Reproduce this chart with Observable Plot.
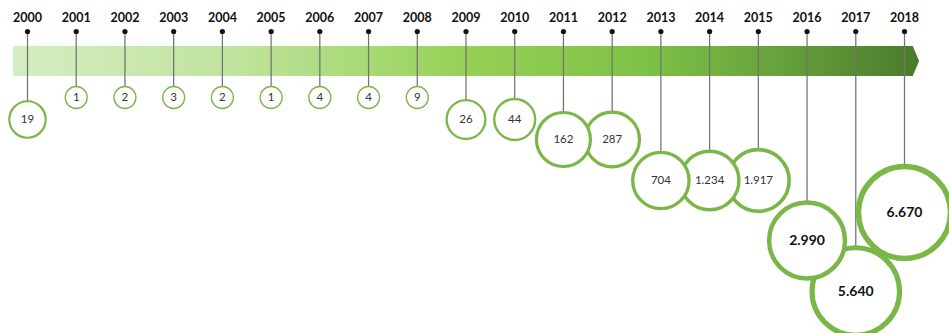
<!DOCTYPE html>
<html>
<head>
<meta charset="utf-8">
<script src="https://cdn.jsdelivr.net/npm/d3@7"></script>
<script src="https://cdn.jsdelivr.net/npm/@observablehq/plot@0.6"></script>
<style>
  html, body { margin: 0; padding: 0; background: #fff; }
  #chart { width: 949px; height: 333px; }
</style>
</head>
<body>
<div id="chart"></div>
<script>
// ---- data ----
const years  = [2000, 2001, 2002, 2003, 2004, 2005, 2006, 2007, 2008, 2009, 2010, 2011, 2012, 2013, 2014, 2015, 2016, 2017, 2018];
const values = [19, 1, 2, 3, 2, 1, 4, 4, 9, 26, 44, 162, 287, 704, 1234, 1917, 2990, 5640, 6670];
// row of the staggered cascade in which each bubble hangs (0 = first row under the arrow)
const rows   = [1, 0, 0, 0, 0, 0, 0, 0, 0, 1, 1, 2, 2, 3, 3, 3, 5, 6, 4];

const data = years.map((year, i) => ({year, value: values[i], row: rows[i]}));

// lanes of the layout: -4 year labels, -3 pins, -2/-1 arrow top/bottom, 0..6 bubble rows
const laneDomain = [-4, -3, -2, -1, 0, 1, 2, 3, 4, 5, 6];
const laneRange  = [17, 31, 46, 76, 97, 119, 139, 180, 212, 240, 291];

const rDomain = [1, 10, 20, 150, 2000, 3000, 6670];
const rRange  = [11, 11, 19, 27, 31, 38, 46];
const rs = d3.scaleLinear().domain(rDomain).range(rRange);

const fmt = d3.formatLocale({decimal: ",", thousands: ".", grouping: [3], currency: ["", ""]}).format(",d");

const first = years[0], last = years[years.length - 1];
const arrow = [
  {x: first - 0.29, top: -2, bottom: -1},
  {x: last + 0.18, top: -2, bottom: -1},
  {x: last + 0.31, top: -1.5, bottom: -1.5}
];

const green = "#7ab648";
const font = "Lato, 'Open Sans', sans-serif";

const svg = Plot.plot({
  width: 949,
  height: 333,
  margin: 0,
  style: {background: "#fff", fontFamily: font},
  x: {type: "linear", domain: [first, last], range: [27, 904], axis: null},
  y: {type: "linear", domain: laneDomain, range: laneRange, axis: null},
  r: {type: "linear", domain: rDomain, range: rRange},
  marks: [
    Plot.areaY(arrow, {x: "x", y1: "top", y2: "bottom", fill: "url(#arrowGrad)", curve: "linear"}),
    Plot.ruleX(data, {x: "year", y1: -3, y2: "row", stroke: "#727272", strokeWidth: 1.25}),
    Plot.dot(years, {x: d => d, y: -3, r: 2.6, fill: "#111", stroke: null}),
    Plot.text(years, {x: d => d, y: -4, text: d => String(d), fontWeight: "bold", fontSize: 12.5, fill: "#111", fontFamily: font}),
    Plot.dot(data, {x: "year", y: "row", r: "value", fill: "#fff", stroke: green, strokeWidth: d => rs(d.value) / 8.5}),
    Plot.text(data.filter(d => d.value < 2000), {x: "year", y: "row", text: d => fmt(d.value), fontSize: 11.5, fill: "#333", fontFamily: font}),
    Plot.text(data.filter(d => d.value >= 2000), {x: "year", y: "row", text: d => fmt(d.value), fontSize: 14, fontWeight: "bold", fill: "#111", fontFamily: font})
  ]
});

const defs = d3.select(svg).insert("defs", ":first-child");
const grad = defs.append("linearGradient").attr("id", "arrowGrad").attr("x1", "0").attr("x2", "1").attr("y1", "0").attr("y2", "0");
[[0, "#d5edc3"], [0.25, "#bfe39d"], [0.5, "#96d156"], [0.7, "#7dc146"], [0.85, "#66a03c"], [1, "#4a7a2b"]]
  .forEach(([o, c]) => grad.append("stop").attr("offset", o).attr("stop-color", c));

document.getElementById("chart").appendChild(svg);
</script>
</body>
</html>
